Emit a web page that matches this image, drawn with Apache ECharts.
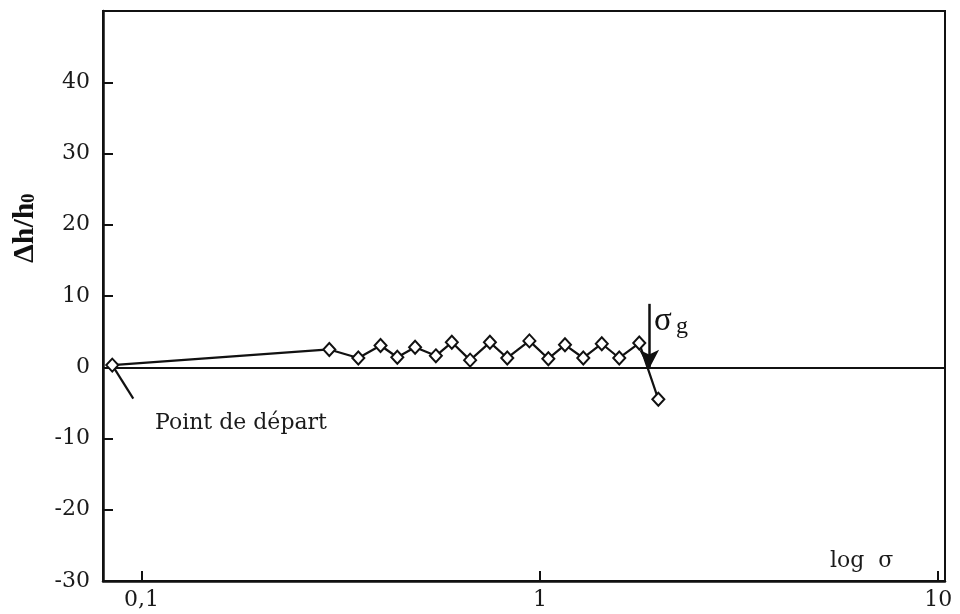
<!DOCTYPE html>
<html>
<head>
<meta charset="utf-8">
<script src="https://cdn.jsdelivr.net/npm/echarts@6/dist/echarts.min.js"></script>
<style>
  html, body { margin: 0; padding: 0; background: #fff; }
  #chart { width: 960px; height: 614px; }
</style>
</head>
<body>
<div id="chart"></div>
<script>
// Measured points (sigma on the log axis, delta h / h0 on the value axis)
const sigma = [0.0844, 0.296, 0.350, 0.398, 0.4385, 0.486, 0.548, 0.601, 0.668, 0.749,
  0.828, 0.941, 1.05, 1.156, 1.285, 1.43, 1.582, 1.776, 1.983];
const dh = [0.3, 2.5, 1.3, 3.05, 1.4, 2.8, 1.6, 3.5, 1.0, 3.5,
  1.3, 3.7, 1.2, 3.15, 1.3, 3.3, 1.3, 3.4, -4.5];

// Axis ticks
const xTickValues = [0.1, 1, 10];
const xTickLabels = ['0,1', '1', '10'];
const yTickValues = [-30, -20, -10, 0, 10, 20, 30, 40];

// Annotations: sigma_g arrow and "Point de départ" pointer
const sigmaG = 1.88;
const arrowFrom = 8.9;
const arrowTo = -0.2;
const pointerEnd = [0.0953, -4.4];

const ink = '#111';
const serif = 'DejaVu Serif';

const chart = echarts.init(document.getElementById('chart'));

const option = {
  backgroundColor: '#fff',
  animation: false,
  grid: {
    left: 103, right: 15, top: 11, bottom: 33,
    show: true,
    borderColor: ink,
    borderWidth: 2
  },
  xAxis: {
    type: 'log',
    logBase: 10,
    min: 0.08,
    max: 10.4,
    axisLine: { show: true, onZero: false, lineStyle: { color: ink, width: 2.5 } },
    axisTick: { show: true, inside: true, length: 10, lineStyle: { color: ink, width: 2 } },
    splitLine: { show: false },
    minorTick: { show: false },
    axisLabel: {
      color: '#1a1a1a',
      fontFamily: serif,
      fontSize: 22,
      margin: 8,
      formatter: (v) => {
        const i = xTickValues.findIndex(t => Math.abs(Math.log10(t) - Math.log10(v)) < 1e-6);
        return i < 0 ? '' : xTickLabels[i];
      }
    }
  },
  yAxis: {
    type: 'value',
    min: -30,
    max: 50,
    interval: 10,
    axisLine: { show: true, lineStyle: { color: ink, width: 2.5 } },
    axisTick: { show: true, inside: true, length: 10, lineStyle: { color: ink, width: 2 } },
    splitLine: { show: false },
    axisLabel: {
      color: '#1a1a1a',
      fontFamily: serif,
      fontSize: 22,
      margin: 13,
      formatter: (v) => yTickValues.indexOf(v) < 0 ? '' : String(v)
    }
  },
  series: [{
    type: 'line',
    data: sigma.map((s, i) => [s, dh[i]]),
    symbol: 'diamond',
    symbolSize: [12, 13],
    showAllSymbol: true,
    lineStyle: { color: ink, width: 2.2 },
    itemStyle: { color: '#fff', borderColor: ink, borderWidth: 2 },
    z: 5,
    markLine: {
      silent: true,
      animation: false,
      symbol: ['none', 'none'],
      label: { show: false },
      lineStyle: { color: ink, width: 2.2, type: 'solid' },
      data: [
        // zero line
        [{ coord: [0.08, 0] }, { coord: [10.4, 0] }],
        // pointer to the starting point
        [{ coord: [sigma[0], dh[0]] }, { coord: pointerEnd }],
        // sigma_g arrow
        [
          { coord: [sigmaG, arrowFrom], symbol: 'none', lineStyle: { color: ink, width: 2.5, type: 'solid' } },
          { coord: [sigmaG, arrowTo], symbol: 'arrow', symbolSize: [15, 19] }
        ]
      ]
    }
  }],
  graphic: [
    {
      // y axis title, rotated
      type: 'group',
      x: 25,
      y: 263,
      rotation: Math.PI / 2,
      children: [
        {
          type: 'text',
          x: 0, y: 0,
          style: {
            text: 'Δh/h',
            font: 'bold 30px "Liberation Serif"',
            fill: '#111',
            align: 'left',
            verticalAlign: 'middle'
          }
        },
        {
          type: 'text',
          x: 60, y: 4,
          style: {
            text: '0',
            font: 'bold 19px "Liberation Serif"',
            fill: '#111',
            align: 'left',
            verticalAlign: 'middle'
          }
        }
      ]
    },
    {
      type: 'text',
      left: 155,
      top: 412,
      style: { text: 'Point de départ', font: '22px "DejaVu Serif"', fill: '#1a1a1a' }
    },
    {
      type: 'text',
      left: 830,
      top: 550,
      style: { text: 'log  σ', font: '22px "DejaVu Serif"', fill: '#1a1a1a' }
    },
    {
      type: 'text',
      x: 654,
      y: 321,
      style: { text: 'σ', font: '33px "Liberation Serif"', fill: '#111', align: 'left', verticalAlign: 'middle' }
    },
    {
      type: 'text',
      x: 676,
      y: 327,
      style: { text: 'g', font: '24px "Liberation Serif"', fill: '#111', align: 'left', verticalAlign: 'middle' }
    }
  ]
};

chart.setOption(option);
</script>
</body>
</html>
